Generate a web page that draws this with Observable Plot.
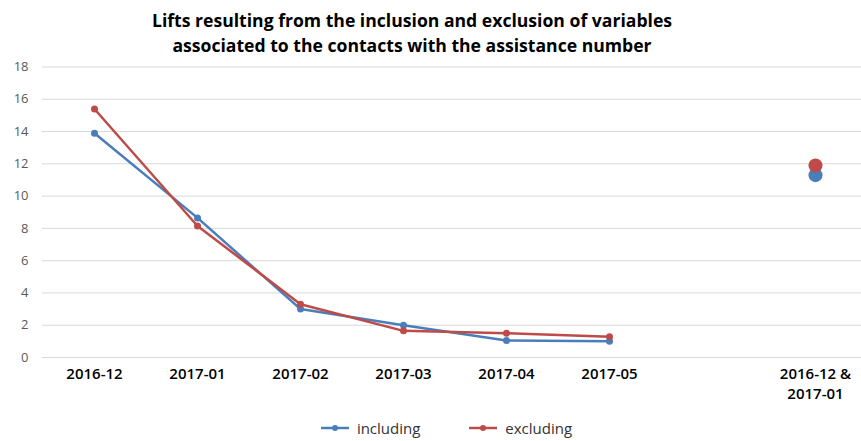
<!DOCTYPE html>
<html>
<head>
<meta charset="utf-8">
<script src="https://cdn.jsdelivr.net/npm/d3@7"></script>
<script src="https://cdn.jsdelivr.net/npm/@observablehq/plot@0.6"></script>
<style>
  body { margin: 0; background: #fff; font-family: "Open Sans", sans-serif; }
  #title {
    width: 861px; box-sizing: border-box; padding: 8px 37px 0 0;
    text-align: center; font-weight: 700; font-size: 17.6px; line-height: 25px; color: #000;
  }
  #legend {
    width: 861px; box-sizing: border-box; padding: 6px 0 0 32px; height: 33px;
    display: flex; justify-content: center; align-items: center; gap: 49px;
    font-size: 15px; color: #333;
  }
  .item { display: flex; align-items: center; gap: 8px; height: 20px; }
</style>
</head>
<body>
<div id="title">Lifts resulting from the inclusion and exclusion of variables<br>associated to the contacts with the assistance number</div>
<div id="chart"></div>
<div id="legend"></div>
<script>
// Monthly lifts, with and without the assistance-number contact variables
const months = ["2016-12", "2017-01", "2017-02", "2017-03", "2017-04", "2017-05"];
const including = [13.9, 8.65, 3.0, 2.0, 1.05, 1.0];
const excluding = [15.4, 8.15, 3.3, 1.65, 1.5, 1.28];

// Lift for the two first months taken together
const combinedLabel = "2016-12 &\n2017-01";
const combinedIncluding = 11.3;
const combinedExcluding = 11.9;

const seriesNames = ["including", "excluding"];
const seriesColors = ["#4A7EBB", "#BE4B48"];
const yTicks = [0, 2, 4, 6, 8, 10, 12, 14, 16, 18];

// an empty slot separates the monthly series from the combined point
const gap = "";
const xDomain = [...months, gap, combinedLabel];
const xTicks = [...months, combinedLabel];

const monthly = [
  ...months.map((m, i) => ({month: m, value: including[i], series: "including"})),
  ...months.map((m, i) => ({month: m, value: excluding[i], series: "excluding"}))
];
const combined = [
  {month: combinedLabel, value: combinedIncluding, series: "including"},
  {month: combinedLabel, value: combinedExcluding, series: "excluding"}
];

const chart = Plot.plot({
  width: 861,
  height: 350,
  marginLeft: 42,
  marginRight: 0,
  marginTop: 8.5,
  marginBottom: 51,
  style: {fontFamily: "'Open Sans', sans-serif", background: "#fff", overflow: "visible"},
  x: {type: "point", domain: xDomain, range: [93.5, 816], padding: 0},
  y: {domain: [0, 18]},
  color: {domain: seriesNames, range: seriesColors},
  marks: [
    Plot.ruleY(yTicks, {stroke: "#d9d9d9", strokeWidth: 1}),
    Plot.axisY({ticks: yTicks, tickSize: 0, tickPadding: 14, fill: "#595959", fontSize: 13, label: null}),
    Plot.axisX({ticks: xTicks, tickSize: 0, tickPadding: 7, fill: "#000", fontSize: 15, fontWeight: 600,
                lineHeight: 1.35, lineAnchor: "top", label: null}),
    Plot.line(monthly, {x: "month", y: "value", z: "series", stroke: "series", strokeWidth: 2.5}),
    Plot.dot(monthly, {x: "month", y: "value", fill: "series", r: 3.5}),
    Plot.dot(combined, {x: "month", y: "value", fill: "series", r: 7})
  ]
});
document.getElementById("chart").appendChild(chart);

// legend below the plot
const legend = d3.select("#legend");
seriesNames.forEach((name, i) => {
  const item = legend.append("div").attr("class", "item");
  const sw = item.append("svg").attr("width", 28).attr("height", 10);
  sw.append("line").attr("x1", 0).attr("x2", 28).attr("y1", 5).attr("y2", 5)
    .attr("stroke", seriesColors[i]).attr("stroke-width", 2.5);
  sw.append("circle").attr("cx", 14).attr("cy", 5).attr("r", 3).attr("fill", seriesColors[i]);
  item.append("span").text(name);
});
</script>
</body>
</html>
